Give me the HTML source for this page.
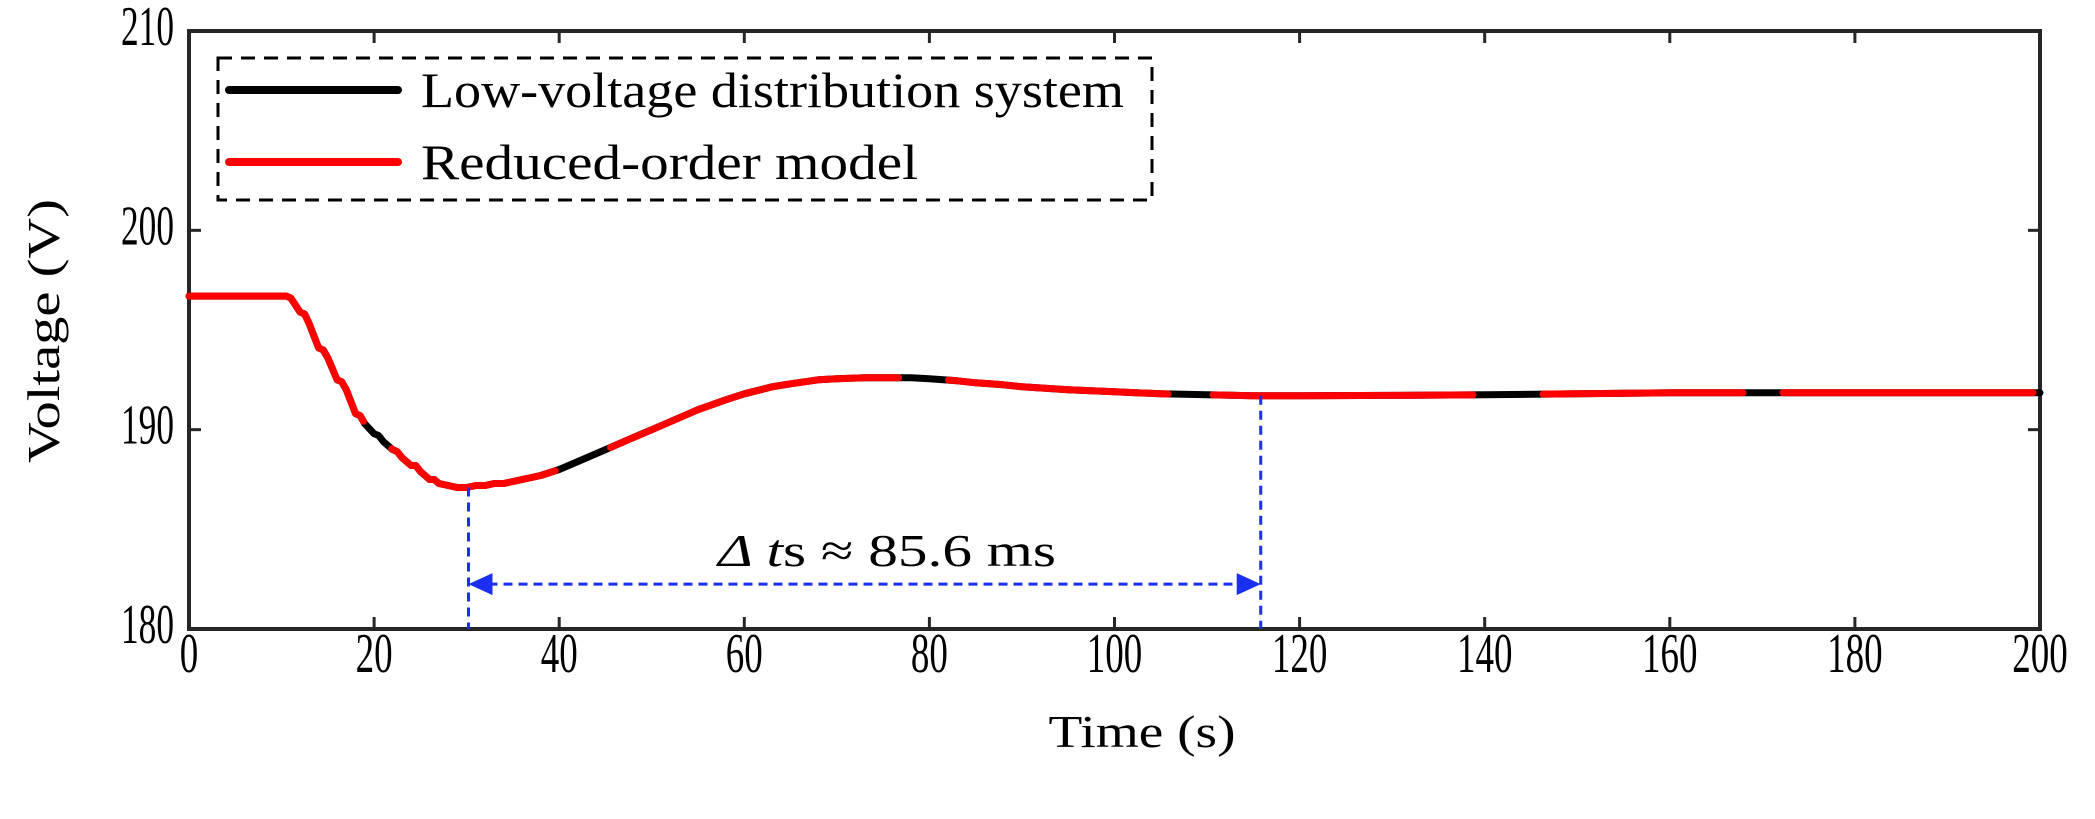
<!DOCTYPE html>
<html><head><meta charset="utf-8"><style>
body{margin:0;background:#fff}
svg{display:block;font-family:"Liberation Serif",serif}
</style></head><body>
<svg width="2095" height="819" viewBox="0 0 2095 819">
<g id="axes"></g>
<g id="series"></g>
<g id="annot"></g>
<g id="legend"></g>
</svg>
<script>
const timeVals=[0,10.5,11,12,12.5,13,14,14.5,15,16,16.5,17,18,18.5,19,20,20.5,21,22,22.5,23,24,24.5,25,26,26.5,27,28,29,30,31,32,33,34,35,36,38,40,42,45,48,50,52,55,58,60,63,65,68,70,73,75,78,80,83,85,88,90,95,100,105,110,115,120,130,140,150,160,170,180,190,200];
const blackVals=[196.7,196.7,196.6,195.9,195.8,195.3,194.1,194.0,193.6,192.5,192.4,192.0,190.8,190.7,190.3,189.8,189.7,189.4,189.0,188.9,188.6,188.2,188.2,187.9,187.5,187.5,187.3,187.2,187.1,187.1,187.2,187.2,187.3,187.3,187.4,187.5,187.7,188.0,188.4,189.0,189.6,190.0,190.4,191.0,191.5,191.8,192.15,192.3,192.5,192.55,192.6,192.6,192.6,192.55,192.45,192.35,192.25,192.15,192.0,191.9,191.8,191.75,191.7,191.7,191.72,191.75,191.8,191.85,191.85,191.85,191.85,191.85];
const redVals=blackVals.slice();
const xTicks=[0,20,40,60,80,100,120,140,160,180,200];
const yTicks=[180,190,200,210];
const tStart=30.2, tEnd=115.8, arrowV=182.25;
const X0=189,X1=2040,Y0=629,Y1=31;
const sx=t=>X0+(t-0)/(200-0)*(X1-X0);
const sy=v=>Y0-(v-180)/(210-180)*(Y0-Y1);
const NS="http://www.w3.org/2000/svg";
function mk(tag,attrs,parent,text){const e=document.createElementNS(NS,tag);for(const k in attrs)e.setAttribute(k,attrs[k]);if(text!==undefined)e.textContent=text;document.getElementById(parent).appendChild(e);return e;}
let e=mk('rect',{x:X0,y:Y1,width:X1-X0,height:Y0-Y1,fill:'none',stroke:'#262626','stroke-width':4},'axes');


xTicks.forEach(t=>{
 let l=mk('line',{x1:sx(t),x2:sx(t),y1:Y0,y2:Y0-12,stroke:'#262626','stroke-width':3},'axes');
 
 
 let l2=mk('line',{x1:sx(t),x2:sx(t),y1:Y1,y2:Y1+12,stroke:'#262626','stroke-width':3},'axes');
 
 
 const s=String(t);
 let tx=mk('text',{x:0,y:0,'font-size':45,'text-anchor':'middle',textLength:18.5*s.length,lengthAdjust:'spacingAndGlyphs',transform:`translate(${sx(t)},672) scale(1,1.25)`},'axes',s);
 
 
});
yTicks.forEach(v=>{
 let l=mk('line',{x1:X0,x2:X0+12,y1:sy(v),y2:sy(v),stroke:'#262626','stroke-width':3},'axes');
 
 
 let l2=mk('line',{x1:X1,x2:X1-12,y1:sy(v),y2:sy(v),stroke:'#262626','stroke-width':3},'axes');
 
 
 let tx=mk('text',{x:0,y:0,'font-size':45,'text-anchor':'end',textLength:53,lengthAdjust:'spacingAndGlyphs',transform:`translate(174,${sy(v)+14}) scale(1,1.25)`},'axes',String(v));
 
 
});
let xt=mk('text',{x:1142,y:747,'font-size':46,'text-anchor':'middle',textLength:187,lengthAdjust:'spacingAndGlyphs'},'axes','Time (s)');


let yt=mk('text',{x:0,y:0,'font-size':46,'text-anchor':'middle',textLength:264,lengthAdjust:'spacingAndGlyphs',transform:`translate(59,331) rotate(-90)`},'axes','Voltage (V)');


const pts=(vals)=>timeVals.map((t,i)=>sx(t).toFixed(1)+','+sy(vals[i]).toFixed(1)).join(' ');
let pb=mk('polyline',{points:pts(blackVals),fill:'none',stroke:'#000','stroke-width':7,'stroke-linejoin':'round','stroke-linecap':'round'},'series');


let pr=mk('polyline',{points:pts(redVals),fill:'none',stroke:'#ff0000','stroke-width':7,'stroke-linejoin':'round','stroke-linecap':'round','stroke-dasharray':'250 40 180 60 300 50 220 45 260 70 200 40'},'series');


const blue='#1a2ff0';
let v1=mk('line',{x1:sx(tStart),x2:sx(tStart),y1:sy(187.1),y2:Y0,stroke:blue,'stroke-width':3,'stroke-dasharray':'9 6'},'annot');


let v2=mk('line',{x1:sx(tEnd),x2:sx(tEnd),y1:sy(191.7),y2:Y0,stroke:blue,'stroke-width':3,'stroke-dasharray':'9 6'},'annot');


const ay=sy(arrowV);
let h=mk('line',{x1:sx(tStart)+20,x2:sx(tEnd)-20,y1:ay,y2:ay,stroke:blue,'stroke-width':3,'stroke-dasharray':'9 6'},'annot');


let a1=mk('polygon',{points:`${sx(tStart)},${ay} ${sx(tStart)+24},${ay-11} ${sx(tStart)+24},${ay+11}`,fill:blue},'annot');


let a2=mk('polygon',{points:`${sx(tEnd)},${ay} ${sx(tEnd)-24},${ay-11} ${sx(tEnd)-24},${ay+11}`,fill:blue},'annot');


let at=mk('text',{x:887,y:566,'font-size':46,'text-anchor':'middle',textLength:338,lengthAdjust:'spacingAndGlyphs'},'annot');
at.innerHTML='<tspan font-style="italic">Δ t</tspan>s ≈ 85.6 ms';


let lb=mk('rect',{x:218,y:58,width:934,height:142,fill:'#fff',stroke:'#000','stroke-width':3,'stroke-dasharray':'14 9'},'legend');


let l1=mk('line',{x1:229,x2:398,y1:90,y2:90,stroke:'#000','stroke-width':8,'stroke-linecap':'round'},'legend');


let t1=mk('text',{x:421,y:107,'font-size':50,textLength:703,lengthAdjust:'spacingAndGlyphs'},'legend','Low-voltage distribution system');


let l2=mk('line',{x1:229,x2:398,y1:162,y2:162,stroke:'#ff0000','stroke-width':8,'stroke-linecap':'round'},'legend');


let t2=mk('text',{x:421,y:179,'font-size':50,textLength:497,lengthAdjust:'spacingAndGlyphs'},'legend','Reduced-order model');


</script>
</body></html>
